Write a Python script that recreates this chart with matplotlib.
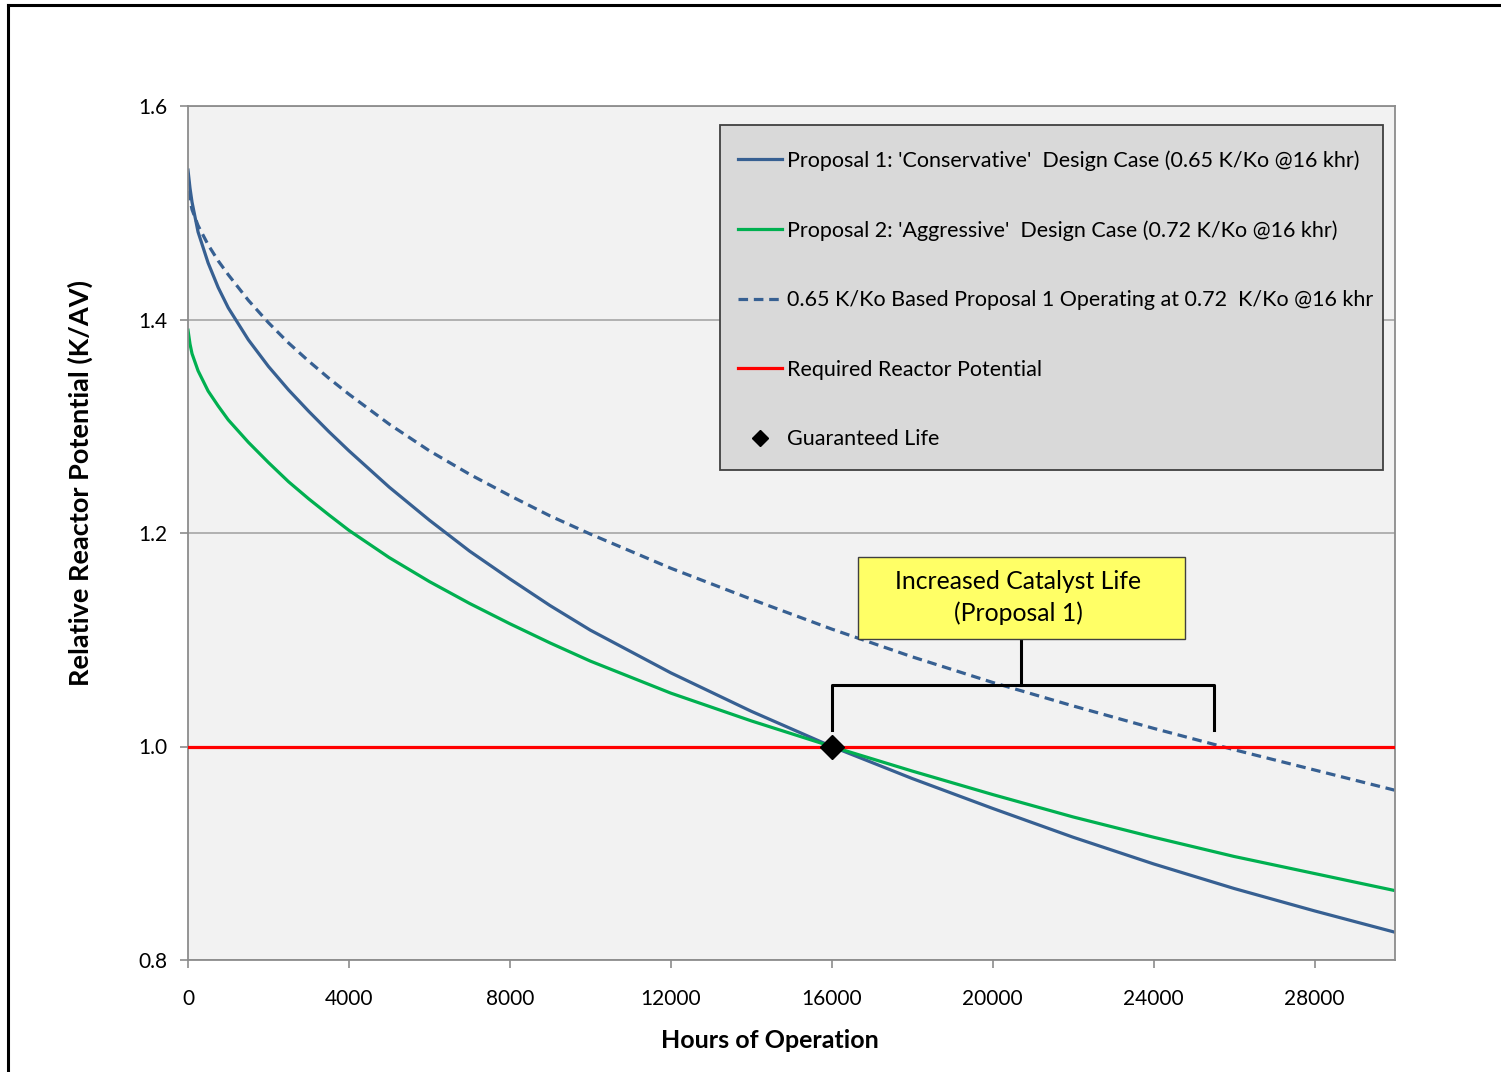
import matplotlib.pyplot as plt
from matplotlib.lines import Line2D
from matplotlib.patches import Rectangle

# hours of operation and relative reactor potential
hours = [0, 50, 100, 250, 500, 750, 1000, 1500, 2000, 2500, 3000, 3500, 4000, 5000,
         6000, 7000, 8000, 9000, 10000, 12000, 14000, 16000, 18000, 20000, 22000,
         24000, 26000, 28000, 30000]
proposal1 = [1.540, 1.523, 1.510, 1.482, 1.453, 1.430, 1.411, 1.381, 1.356, 1.334,
             1.314, 1.295, 1.277, 1.243, 1.212, 1.183, 1.157, 1.132, 1.109, 1.069,
             1.033, 1.000, 0.970, 0.942, 0.915, 0.890, 0.867, 0.846, 0.826]
proposal2 = [1.390, 1.377, 1.368, 1.352, 1.333, 1.319, 1.306, 1.285, 1.266, 1.248,
             1.232, 1.217, 1.2025, 1.177, 1.1545, 1.134, 1.115, 1.097, 1.080, 1.050,
             1.024, 1.000, 0.977, 0.955, 0.934, 0.915, 0.897, 0.881, 0.865]
proposal1_at_072 = [1.535, 1.512, 1.503, 1.488, 1.470, 1.455, 1.442, 1.418, 1.397,
                    1.378, 1.361, 1.345, 1.330, 1.302, 1.277, 1.255, 1.235, 1.216,
                    1.199, 1.167, 1.138, 1.110, 1.084, 1.060, 1.038, 1.017, 0.997,
                    0.978, 0.959]
required = 1.0
guaranteed_life = 16000
extended_life = 25500

labels = ["Proposal 1: 'Conservative'  Design Case (0.65 K/Ko @16 khr)",
          "Proposal 2: 'Aggressive'  Design Case (0.72 K/Ko @16 khr)",
          "0.65 K/Ko Based Proposal 1 Operating at 0.72  K/Ko @16 khr",
          "Required Reactor Potential",
          "Guaranteed Life"]

BLUE = "#376092"
GREEN = "#00B050"
RED = "#FF0000"
DASH = (0, (3, 1.8))

plt.rcParams['font.family'] = ['Lato', 'DejaVu Sans']

fig = plt.figure(figsize=(15.01, 10.72), dpi=100)
ax = fig.add_axes([188/1501, 1 - 960/1072, (1395-188)/1501, (960-106)/1072])
ax.set_facecolor("#F2F2F2")

# outer frame (top and left visible)
fig.add_artist(Line2D([8/1501, 8/1501], [0, 1 - 5/1072], color="black", lw=2.2,
                      transform=fig.transFigure))
fig.add_artist(Line2D([8/1501, 1], [1 - 5/1072, 1 - 5/1072], color="black", lw=2.2,
                      transform=fig.transFigure))

ax.plot(hours, proposal1, color=BLUE, lw=2.3)
ax.plot(hours, proposal2, color=GREEN, lw=2.3)
ax.plot(hours, proposal1_at_072, color=BLUE, lw=2.3, linestyle=DASH)
ax.axhline(required, color=RED, lw=2.3, zorder=3)
ax.plot([guaranteed_life], [required], marker="D", color="black", markersize=12.5,
        zorder=5, clip_on=False)

ax.set_xlim(0, 30000)
ax.set_ylim(0.8, 1.6)
ax.set_xticks(range(0, 30001, 4000))
ax.set_yticks([0.8, 1.0, 1.2, 1.4, 1.6])
ax.yaxis.set_major_formatter(plt.FuncFormatter(lambda v, p: f"{v:.1f}"))
ax.grid(axis="y", color="#A6A6A6", lw=1.2)
ax.set_axisbelow(True)
for s in ax.spines.values():
    s.set_color("#8C8C8C")
    s.set_linewidth(1.3)
ax.tick_params(axis="both", colors="#8C8C8C", length=6, width=1.2, labelsize=15,
               labelcolor="black")
ax.tick_params(axis="x", pad=15)
ax.tick_params(axis="y", pad=9)

ax.set_xlabel("Hours of Operation", fontsize=18, fontweight="bold")
ax.set_ylabel("Relative Reactor Potential (K/AV)", fontsize=19.5, fontweight="bold")
ax.xaxis.set_label_coords(0.482, -0.081)
ax.yaxis.set_label_coords(-0.0787, 0.558)

# bracket annotation
bracket_y = 1.0576
tick_y = 1.015
ax.plot([guaranteed_life, guaranteed_life, extended_life, extended_life],
        [tick_y, bracket_y, bracket_y, tick_y], color="black", lw=2.2, zorder=4)
mid = 20700
ax.plot([mid, mid], [bracket_y, 1.1007], color="black", lw=2.2, zorder=4)
ax.add_patch(Rectangle((16653, 1.1007), 8127, 0.0768, facecolor="#FFFF66",
                       edgecolor="#404040", lw=1.0, zorder=4))
ax.text(20630, 1.1395, "Increased Catalyst Life\n(Proposal 1)", ha="center",
        va="center", fontsize=17.8, zorder=5, linespacing=1.42)

# legend box drawn separately so its size matches the original
ax.add_patch(Rectangle((0.4408, 0.5738), 0.9901 - 0.4408, 0.9778 - 0.5738,
                       transform=ax.transAxes, facecolor="#D9D9D9",
                       edgecolor="#404040", lw=1.3, zorder=4))
handles = [Line2D([], [], color=BLUE, lw=2.3),
           Line2D([], [], color=GREEN, lw=2.3),
           Line2D([], [], color=BLUE, lw=2.3, linestyle=DASH),
           Line2D([], [], color=RED, lw=2.3),
           Line2D([], [], color="black", marker="D", linestyle="none", markersize=8)]
leg = ax.legend(handles, labels, loc="upper left", bbox_to_anchor=(0.4424, 0.9672),
                fontsize=15.5, labelspacing=2.3, borderpad=0.75, handlelength=2.05,
                handletextpad=0.23, borderaxespad=0, frameon=False)
leg.set_zorder(6)

fig.savefig("out.png", dpi=100)
